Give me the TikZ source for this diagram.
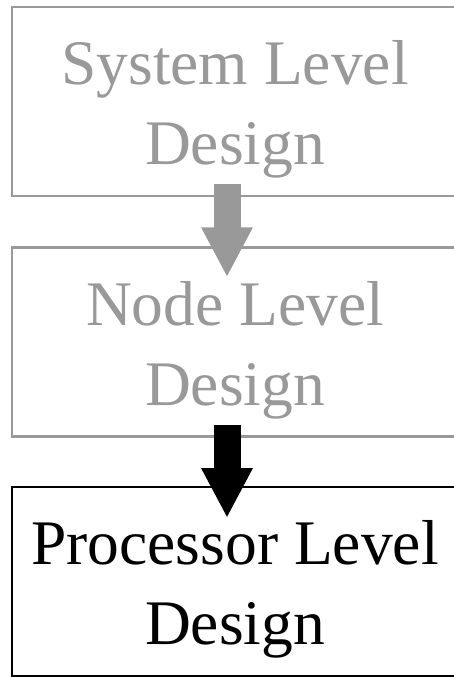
\documentclass[tikz,border=0pt]{standalone}
\usepackage{fontspec}
\setmainfont{Liberation Serif}
\usetikzlibrary{arrows.meta, positioning, calc}
\definecolor{levelGray}{HTML}{999999}

\begin{document}
\begin{tikzpicture}[
    x=1pt, y=1pt,
    font=\fontsize{63.5}{80}\selectfont,
    level/.style={draw=#1, text=#1, minimum width=446pt, minimum height=189pt,
                  align=center, inner sep=0pt, text height=140pt, text depth=14pt},
    flow/.style={line width=27pt, draw=#1, -{Triangle[length=50pt, width=48pt]}},
  ]
    \useasboundingbox (0,0) rectangle (453,-677);
    \node[level=levelGray, line width=2.5pt] (sys)  at (235,-101.5) {System Level\\Design};
    \node[level=levelGray, line width=2.5pt] (nodelvl) at (235,-342) {Node Level\\Design};
    \node[level=black, line width=2pt]       (proc) at (235,-581.5) {Processor Level\\Design};
    \draw[flow=levelGray] ([xshift=-8pt, yshift=13pt]sys.south) -- ([xshift=-8pt, yshift=-31pt]nodelvl.north);
    \draw[flow=black] ([xshift=-8pt, yshift=13pt]nodelvl.south) -- ([xshift=-8pt, yshift=-32pt]proc.north);
  \end{tikzpicture}
\end{document}
